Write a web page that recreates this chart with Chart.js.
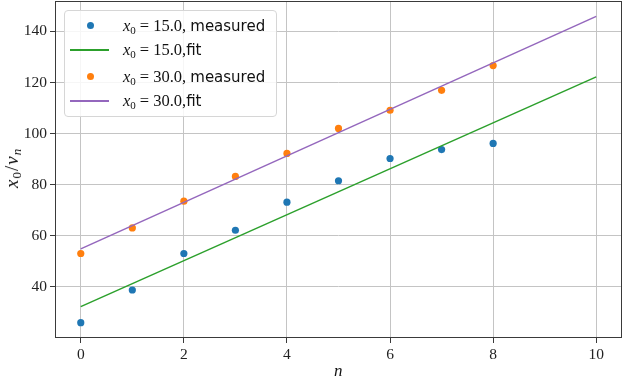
<!DOCTYPE html>
<html>
<head>
<meta charset="utf-8">
<script src="https://cdn.jsdelivr.net/npm/chart.js@4/dist/chart.umd.min.js"></script>
<style>
  html, body { margin: 0; padding: 0; background: #fff; }
  #wrap { position: relative; width: 623px; height: 380px; }
  #c { position: absolute; left: 0; top: 0; }
  .serif { font-family: "Liberation Serif", "DejaVu Serif", serif; }
  #legend {
    position: absolute; left: 64px; top: 10px; width: 213px; height: 107px;
    background: rgba(255,255,255,0.85); border: 1px solid #d6d6d6; border-radius: 4px;
    box-sizing: border-box;
  }
  .row { position: absolute; left: 0; height: 20px; width: 100%; }
  .sym { position: absolute; left: 5px; width: 40px; height: 20px; }
  .lab { position: absolute; left: 58px; top: 0; line-height: 20px; white-space: nowrap; font-size: 16.5px; color: #111; }
  .lab i { font-family: "Liberation Serif", serif; font-style: italic; }
  .lab sub { font-size: 11px; font-style: normal; vertical-align: -3px; line-height: 0; }
  .lab .eq { margin: 0 4px; }
  .lab .sans { font-family: "DejaVu Sans", sans-serif; font-size: 15px; }
  .xt { position: absolute; left: 334px; top: 361px; font-size: 17px; font-style: italic; color: #111; }
  .yt { position: absolute; left: 12px; top: 168px; font-size: 19px; color: #111; letter-spacing: 1px;
        transform: translate(-50%, -50%) rotate(-90deg); white-space: nowrap; }
  .yt sub { font-size: 13px; vertical-align: -3px; line-height: 0; }
</style>
</head>
<body>
<div id="wrap">
  <canvas id="c" width="623" height="380"></canvas>
  <div id="legend"></div>
  <div class="xt serif">n</div>
  <div class="yt serif"><i>x</i><sub>0</sub>/<i>v</i><sub><i>n</i></sub></div>
</div>
<script>
// ---- data ----
const nValues = [0, 1, 2, 3, 4, 5, 6, 7, 8];
const measured15 = [25.9, 38.7, 53.0, 62.1, 73.1, 81.5, 90.2, 93.7, 96.1];
const measured30 = [53.0, 63.0, 73.5, 83.2, 92.2, 102.0, 109.1, 116.9, 126.6];
const fitN = [0, 10];
const fit15 = [32.2, 122.2];
const fit30 = [54.8, 145.9];
const xTicks = [0, 2, 4, 6, 8, 10];
const yTicks = [40, 60, 80, 100, 120, 140];
const seriesX0 = ['15.0', '15.0', '30.0', '30.0'];
const seriesKind = [', measured', ',fit', ', measured', ',fit'];

const colors = ['#1f77b4', '#2ca02c', '#ff7f0e', '#9467bd'];
const pts = (xs, ys) => xs.map((x, i) => ({ x: x, y: ys[i] }));

const datasets = [
  { label: 'x0 = ' + seriesX0[0] + seriesKind[0], data: pts(nValues, measured15), showLine: false,
    pointRadius: 3.6, pointHoverRadius: 3.6, pointBackgroundColor: colors[0], pointBorderWidth: 0, order: 4 },
  { label: 'x0 = ' + seriesX0[1] + seriesKind[1], data: pts(fitN, fit15), showLine: true,
    borderColor: colors[1], borderWidth: 1.5, pointRadius: 0, order: 3 },
  { label: 'x0 = ' + seriesX0[2] + seriesKind[2], data: pts(nValues, measured30), showLine: false,
    pointRadius: 3.6, pointHoverRadius: 3.6, pointBackgroundColor: colors[2], pointBorderWidth: 0, order: 2 },
  { label: 'x0 = ' + seriesX0[3] + seriesKind[3], data: pts(fitN, fit30), showLine: true,
    borderColor: colors[3], borderWidth: 1.5, pointRadius: 0, order: 1 }
];

// HTML legend (math-style labels)
const legend = document.getElementById('legend');
const rowTops = [5, 29, 56, 80];
datasets.forEach((ds, i) => {
  const row = document.createElement('div');
  row.className = 'row';
  row.style.top = rowTops[i] + 'px';
  const sym = document.createElement('div');
  sym.className = 'sym';
  if (ds.showLine) {
    sym.innerHTML = '<div style="position:absolute;left:0;top:9px;width:39px;height:1.5px;background:' + colors[i] + '"></div>';
  } else {
    sym.innerHTML = '<div style="position:absolute;left:17px;top:6px;width:7px;height:7px;border-radius:50%;background:' + colors[i] + '"></div>';
  }
  const lab = document.createElement('div');
  lab.className = 'lab serif';
  const kind = seriesKind[i];
  const tail = kind.startsWith(', ') ? ', <span class="sans">' + kind.slice(2) + '</span>'
                                     : ',<span class="sans">' + kind.slice(1) + '</span>';
  lab.innerHTML = '<i>x</i><sub>0</sub><span class="eq">=</span>' + seriesX0[i] + tail;
  row.appendChild(sym);
  row.appendChild(lab);
  legend.appendChild(row);
});

const frame = {
  id: 'frame',
  afterDatasetsDraw(chart) {
    const a = chart.chartArea, ctx = chart.ctx;
    ctx.save();
    ctx.strokeStyle = '#3a3a3a';
    ctx.lineWidth = 1;
    ctx.strokeRect(Math.round(a.left) + 0.5, Math.round(a.top) + 0.5, Math.round(a.right - a.left) - 1, Math.round(a.bottom - a.top) - 1);
    ctx.restore();
  }
};

const tickFont = { family: '"Liberation Serif", "DejaVu Serif", serif', size: 15.5 };

new Chart(document.getElementById('c'), {
  type: 'scatter',
  data: { datasets: datasets },
  options: {
    responsive: false,
    devicePixelRatio: 1,
    animation: false,
    layout: { autoPadding: false, padding: { top: 1, right: 1, left: 0, bottom: 0 } },
    plugins: { legend: { display: false }, tooltip: { enabled: false } },
    scales: {
      x: {
        type: 'linear', min: -0.5, max: 10.5,
        afterBuildTicks: s => { s.ticks = xTicks.map(v => ({ value: v })); },
        afterFit: s => { s.height = 42; s.paddingLeft = 0; s.paddingRight = 0; },
        grid: { color: '#c4c4c4', lineWidth: 1, tickColor: '#3a3a3a', tickLength: 5, drawTicks: true },
        border: { display: false },
        ticks: { color: '#222', font: tickFont, padding: 3, maxRotation: 0 }
      },
      y: {
        type: 'linear', min: 19.9, max: 151.9,
        afterBuildTicks: s => { s.ticks = yTicks.map(v => ({ value: v })); },
        afterFit: s => { s.width = 55; s.paddingTop = 0; s.paddingBottom = 0; },
        grid: { color: '#c4c4c4', lineWidth: 1, tickColor: '#3a3a3a', tickLength: 5, drawTicks: true },
        border: { display: false },
        ticks: { color: '#222', font: tickFont, padding: 3 }
      }
    }
  },
  plugins: [frame]
});
</script>
</body>
</html>
